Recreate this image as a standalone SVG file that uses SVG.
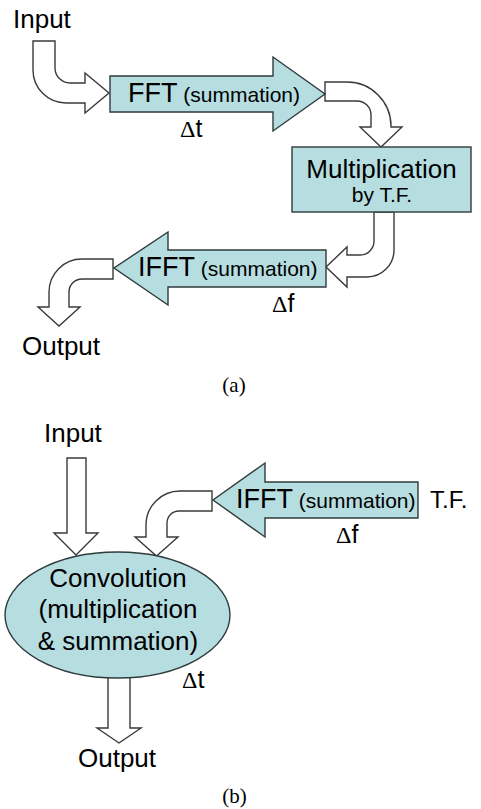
<svg xmlns="http://www.w3.org/2000/svg" width="481" height="809" viewBox="0 0 481 809">
  <style>
    .bg { fill: #ffffff; }
    .blk { fill: #b6dde0; stroke: #2f3a3c; stroke-width: 1.4; }
    .flow { fill: #ffffff; stroke: #3a3a3a; stroke-width: 1.4; stroke-linejoin: miter; }
    .lbl { font-family: "Liberation Sans", Arial, sans-serif; fill: #000000; }
    .big { font-size: 26px; }
    .op { font-size: 27px; }
    .small { font-size: 21px; }
    .delta { font-family: "Liberation Serif", "Times New Roman", serif; font-size: 24px; }
    .cap { font-family: "Liberation Serif", "Times New Roman", serif; font-size: 21px; fill: #000000; }
  </style>
  <rect class="bg" x="0" y="0" width="481" height="809"/>

  <!-- white flow arrows between the blocks -->
  <g id="connectors">
    <!-- (a) input bends into the FFT block -->
    <path class="flow" d="M33,41 V70 A33,33 0 0 0 66,103 H85 V113 L109,93 L85,73 V83 H70 A15,15 0 0 1 55,68 V41 Z"/>
    <!-- (a) FFT output bends down into the multiplier -->
    <path class="flow" d="M325,82 H347 A44,44 0 0 1 391,126 V127 H402 L381,147 L360,127 H371 V115 A14,14 0 0 0 357,101 H325 Z"/>
    <!-- (a) multiplier bends into the IFFT block -->
    <path class="flow" d="M374,212 H394 V250 A27,27 0 0 1 367,277 H347 V287 L326,267 L347,247 V255 H360 A14,14 0 0 0 374,241 Z"/>
    <!-- (a) IFFT output bends down to the output -->
    <path class="flow" d="M113,259 V279 H82 A13,13 0 0 0 69,292 V307 H80 L59,326 L38,307 H49 V292 A33,33 0 0 1 82,259 Z"/>
    <!-- (b) straight input arrow -->
    <path class="flow" d="M67,458 H86 V533 H98 L76,555 L54,533 H67 Z"/>
    <!-- (b) IFFT output bends down into the convolution -->
    <path class="flow" d="M212,491 V511 H179 A12,12 0 0 0 167,523 V537 H178 L156.5,556 L135,537 H146 V525 A34,34 0 0 1 180,491 Z"/>
    <!-- (b) convolution output -->
    <path class="flow" d="M108,670 H130 V728 H141 L119,743 L97,728 H108 Z"/>
  </g>

  <!-- (a) frequency-domain route -->
  <g id="input-a">
    <text class="lbl big" x="13" y="28">Input</text>
  </g>

  <g id="fft">
    <path class="blk" d="M110,76 H273 V57 L325,94 L273,131 V112 H110 Z"/>
    <text class="lbl" x="128" y="102"><tspan class="op">FFT</tspan><tspan class="small"> (summation)</tspan></text>
    <text x="180" y="137"><tspan class="delta">Δ</tspan><tspan class="lbl" font-size="25">t</tspan></text>
  </g>

  <g id="multiply">
    <rect class="blk" x="292" y="147" width="179" height="65"/>
    <text class="lbl big" x="381.5" y="178" text-anchor="middle">Multiplication</text>
    <text class="lbl" x="382" y="202" font-size="21" text-anchor="middle">by T.F.</text>
  </g>

  <g id="ifft-a">
    <path class="blk" d="M326,250 H168 V232 L114,268 L168,305 V287 H326 Z"/>
    <text class="lbl" x="138" y="276"><tspan class="op">IFFT</tspan><tspan class="small"> (summation)</tspan></text>
    <text x="272" y="312"><tspan class="delta">Δ</tspan><tspan class="lbl" font-size="25">f</tspan></text>
  </g>

  <g id="output-a">
    <text class="lbl big" x="22" y="355">Output</text>
  </g>

  <g id="caption-a">
    <text class="cap" x="234" y="392" text-anchor="middle">(a)</text>
  </g>

  <!-- (b) time-domain route -->
  <g id="input-b">
    <text class="lbl big" x="44" y="442">Input</text>
  </g>

  <g id="ifft-b">
    <path class="blk" d="M418,482 H265 V463 L213,500 L265,537 V518 H418 Z"/>
    <text class="lbl" x="236" y="508"><tspan class="op">IFFT</tspan><tspan class="small"> (summation)</tspan></text>
    <text x="336" y="543"><tspan class="delta">Δ</tspan><tspan class="lbl" font-size="25">f</tspan></text>
  </g>

  <g id="tf-b">
    <text class="lbl" x="430" y="508" font-size="24">T.F.</text>
  </g>

  <g id="convolution">
    <ellipse class="blk" cx="117.5" cy="615" rx="112.5" ry="63"/>
    <text class="lbl big" x="118" y="587" text-anchor="middle">Convolution</text>
    <text class="lbl big" x="118" y="618" text-anchor="middle">(multiplication</text>
    <text class="lbl big" x="118" y="650" text-anchor="middle">&amp; summation)</text>
    <text x="182" y="688"><tspan class="delta">Δ</tspan><tspan class="lbl" font-size="25">t</tspan></text>
  </g>

  <g id="output-b">
    <text class="lbl big" x="78" y="767">Output</text>
  </g>

  <g id="caption-b">
    <text class="cap" x="234.5" y="803" text-anchor="middle">(b)</text>
  </g>
</svg>
